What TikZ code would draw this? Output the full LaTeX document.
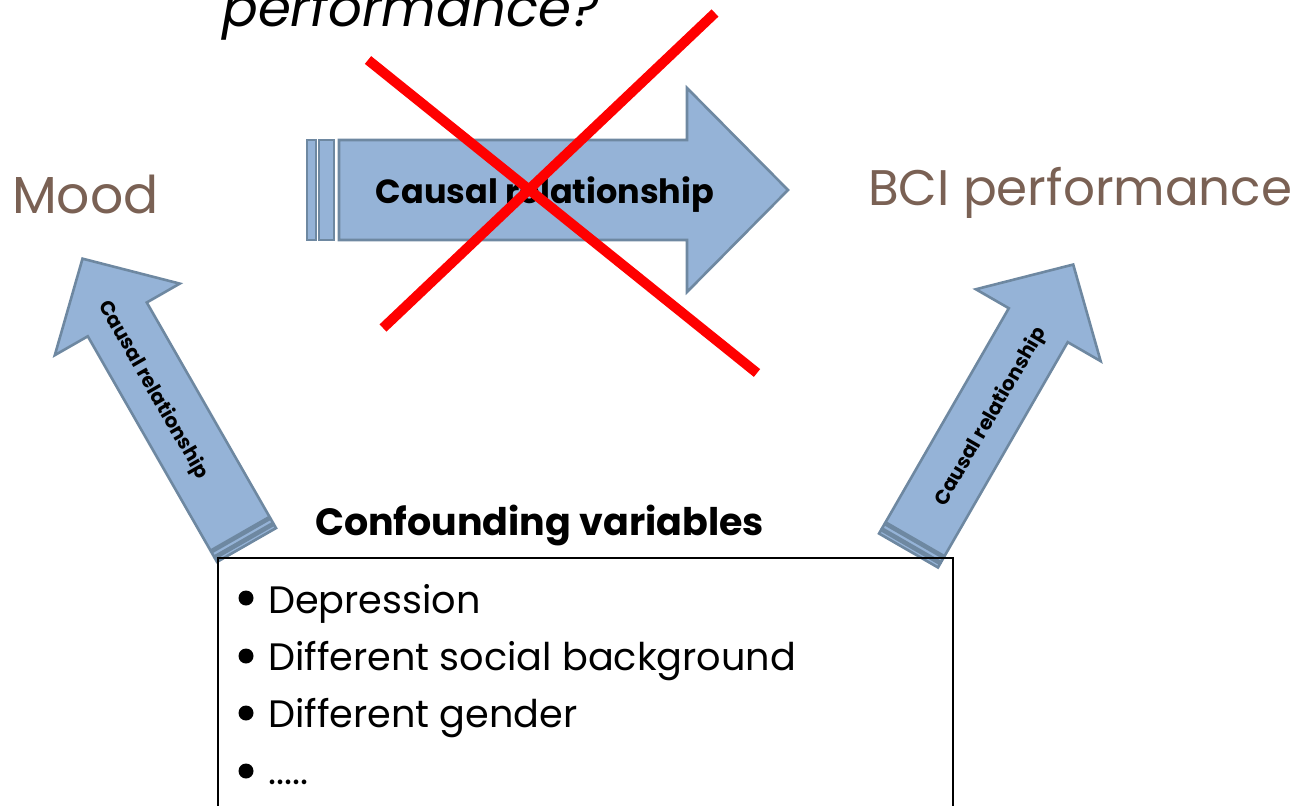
\documentclass[tikz,border=0pt]{standalone}
\usepackage{fontspec}
\setmainfont{Poppins}
\definecolor{arrowfill}{HTML}{95B3D7}
\definecolor{arrowline}{HTML}{6E88A1}
\definecolor{varbrown}{HTML}{7A6154}
\definecolor{crossred}{HTML}{FF0000}

% Striped block arrow pointing along +x, tail at the origin.
% #1 length, #2 head length, #3 shaft half width, #4 head half width,
% #5 first stripe, #6 gap, #7 second stripe, #8 gap
\newcommand\stripedarrow[8]{%
  \path[blockarrow] (0,-#3) rectangle (#5,#3);
  \path[blockarrow] ({#5+#6},-#3) rectangle ({#5+#6+#7},#3);
  \path[blockarrow] ({#5+#6+#7+#8},-#3) -- ({#1-#2},-#3) -- ({#1-#2},-#4)
    -- (#1,0) -- ({#1-#2},#4) -- ({#1-#2},#3) -- ({#5+#6+#7+#8},#3) -- cycle;
}

\begin{document}
\begin{tikzpicture}[x=1pt,y=-1pt,
  blockarrow/.style={fill=arrowfill,draw=arrowline,line width=2.6pt,line join=miter},
  varlabel/.style={text=varbrown,font=\fontsize{#1}{#1}\selectfont,anchor=base west,inner sep=0pt},
  arrowlabel/.style={font=\bfseries\fontsize{#1}{#1}\selectfont,inner sep=0pt},
  itemtext/.style={font=\fontsize{38.2}{42}\selectfont,anchor=base west,inner sep=0pt},
  bulletdot/.style={circle,fill=black,minimum size=15pt,inner sep=0pt},
  cross/.style={crossred,line width=10pt}]
\useasboundingbox (0,0) rectangle (1297,805);
\clip (0,0) rectangle (1297,805);

% question heading, cut by the top edge
\node[font=\itshape\fontsize{53}{56}\selectfont,anchor=base west,inner sep=0pt] (question) at (222,27) {performance?};

% the two variables
\node[varlabel=52] (mood) at (12,213) {Mood};
\node[varlabel=50] (bci) at (868,205) {BCI performance};

% direct causal link, crossed out
\begin{scope}[shift={(307,190)}]
  \stripedarrow{481}{101}{50}{102}{9}{3}{15}{5}
\end{scope}
\node[arrowlabel=33.5] (direct) at (545,195) {Causal relationship};
\coordinate (xa) at (368,60);
\coordinate (xb) at (757,373);
\coordinate (xc) at (715,13);
\coordinate (xd) at (383,328);
\draw[cross] (xa) -- (xb);
\draw[cross] (xc) -- (xd);

% confounders pointing to each variable
\begin{scope}[shift={(246.5,545)},rotate=119.8]
  \stripedarrow{330}{70}{34}{72}{4}{2}{5}{2}
\end{scope}
\node[arrowlabel=20,rotate=-60.2] (leftlink) at (153,390) {Causal relationship};

\begin{scope}[shift={(908.5,550.5)},rotate=60.06]
  \stripedarrow{330}{70}{34}{72}{4}{2}{5}{2}
\end{scope}
\node[arrowlabel=20,rotate=60.06] (rightlink) at (991,417) {Causal relationship};

% confounding variables box
\node[font=\bfseries\fontsize{38}{40}\selectfont,anchor=base,inner sep=0pt] (conf) at (539.5,535) {Confounding variables};
\draw[line width=2pt] (218,830) -- (218,558) -- (953,558) -- (953,830);

\node[bulletdot] (b1) at (246,598) {};
\node[bulletdot] (b2) at (246,656) {};
\node[bulletdot] (b3) at (246,713) {};
\node[bulletdot] (b4) at (246,771) {};
\node[itemtext] (i1) at (268,613) {Depression};
\node[itemtext] (i2) at (268,670) {Different social background};
\node[itemtext] (i3) at (268,727) {Different gender};
\node[itemtext] (i4) at (268,784) {.....};
\end{tikzpicture}
\end{document}
